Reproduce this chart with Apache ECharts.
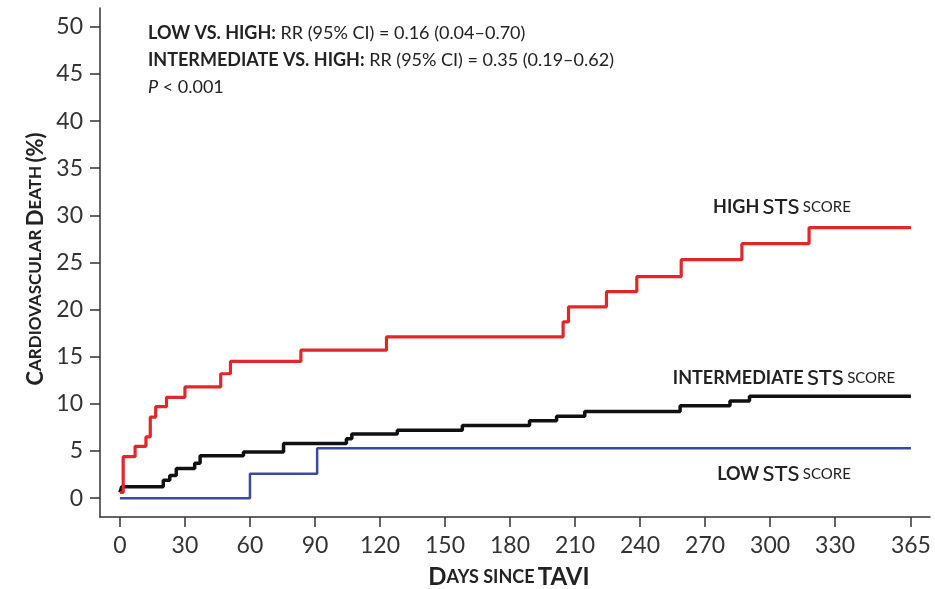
<!DOCTYPE html>
<html>
<head>
<meta charset="utf-8">
<script src="https://cdn.jsdelivr.net/npm/echarts@6/dist/echarts.min.js"></script>
<style>
html,body{margin:0;padding:0;background:#fff;}
#c{width:935px;height:589px;}
</style>
</head>
<body>
<div id="c"></div>
<script>
// Kaplan-Meier style cumulative incidence (%), [day, value]
const highSTS = [[0,0.6],[1.5,4.4],[7,5.5],[12,6.5],[14,8.6],[16.5,9.7],[21.5,10.7],[30,11.8],[46.5,13.2],[51,14.5],[83.5,15.7],[123,17.1],[204.5,18.7],[207,20.3],[224.5,21.9],[238.5,23.5],[259,25.3],[287,27.0],[318,28.7],[365,28.7]];
const intermediateSTS = [[0,0.6],[0.8,1.2],[20,1.9],[23,2.4],[26,3.15],[34.5,3.7],[37,4.5],[57,4.9],[75.5,5.8],[104.5,6.3],[107,6.8],[128,7.2],[158,7.7],[189,8.2],[201.5,8.7],[214.5,9.2],[258.5,9.8],[281.5,10.3],[290.5,10.8],[365,10.8]];
const lowSTS = [[0,0],[60,2.6],[91,5.3],[365,5.3]];
const xTicks = [0,30,60,90,120,150,180,210,240,270,300,330,365];
const yTicks = [0,5,10,15,20,25,30,35,40,45,50];

const FONT = 'Lato, "Open Sans", sans-serif';
const chart = echarts.init(document.getElementById('c'), null, {renderer:'canvas'});
const axisColor = '#333';
const curveRich = {
  b:{fontWeight:'bold',fontSize:18,fontFamily:FONT,fill:'#222'},
  m:{fontSize:22,fontFamily:FONT,fontWeight:500,fill:'#222'},
  s:{fontSize:15,fontFamily:FONT,fill:'#222'}
};
chart.setOption({
  backgroundColor:'#fff',
  animation:false,
  grid:{left:100,right:5,top:8,bottom:72},
  xAxis:{
    type:'value', min:-9.2, max:373.8,
    axisLine:{show:true,onZero:false,lineStyle:{color:axisColor,width:1.5}},
    axisTick:{show:true,customValues:xTicks,length:10,lineStyle:{color:axisColor,width:1.5}},
    axisLabel:{customValues:xTicks,color:'#333',fontSize:23,fontFamily:FONT,margin:17},
    splitLine:{show:false}
  },
  yAxis:{
    type:'value', min:-2, max:52,
    axisLine:{show:true,onZero:false,lineStyle:{color:axisColor,width:1.5}},
    axisTick:{show:true,customValues:yTicks,length:10,lineStyle:{color:axisColor,width:1.5}},
    axisLabel:{customValues:yTicks,color:'#333',fontSize:23,fontFamily:FONT,margin:17},
    splitLine:{show:false}
  },
  series:[
    {type:'line',step:'end',data:lowSTS,showSymbol:false,lineStyle:{color:'#3a4aa0',width:2.5},z:2},
    {type:'line',step:'end',data:intermediateSTS,showSymbol:false,lineStyle:{color:'#111',width:3.5},z:3},
    {type:'line',step:'end',data:highSTS,showSymbol:false,lineStyle:{color:'#e3262b',width:3.2},z:4}
  ],
  graphic:[
    {type:'text',left:148,top:24,style:{
      text:'{b|LOW VS. HIGH:} RR (95% CI) = 0.16 (0.04–0.70)',
      font:'18px '+FONT, fill:'#222',
      rich:{b:{fontWeight:'bold',fontSize:18,fontFamily:FONT,fill:'#222'}}
    }},
    {type:'text',left:148,top:51,style:{
      text:'{b|INTERMEDIATE VS. HIGH:} RR (95% CI) = 0.35 (0.19–0.62)',
      font:'18px '+FONT, fill:'#222',
      rich:{b:{fontWeight:'bold',fontSize:18,fontFamily:FONT,fill:'#222'}}
    }},
    {type:'text',left:148,top:78,style:{
      text:'{i|P} < 0.001',
      font:'18px '+FONT, fill:'#222',
      rich:{i:{fontStyle:'italic',fontSize:18,fontFamily:FONT,fill:'#222'}}
    }},
    {type:'text',x:782,y:207,style:{
      text:'{b|HIGH} {m|STS} {s|SCORE}',
      align:'center',verticalAlign:'middle',rich:curveRich
    }},
    {type:'text',x:784,y:378,style:{
      text:'{b|INTERMEDIATE} {m|STS} {s|SCORE}',
      align:'center',verticalAlign:'middle',rich:curveRich
    }},
    {type:'text',x:784,y:474,style:{
      text:'{b|LOW} {m|STS} {s|SCORE}',
      align:'center',verticalAlign:'middle',rich:curveRich
    }},
    {type:'text',x:36,y:259,rotation:Math.PI/2,style:{
      text:'{L|C}{s|ARDIOVASCULAR} {L|D}{s|EATH} {L|(%)}',
      align:'center',verticalAlign:'middle',
      rich:{L:{fontWeight:'bold',fontSize:22,fontFamily:FONT,fill:'#222'},s:{fontWeight:'bold',fontSize:17,fontFamily:FONT,fill:'#222'}}
    }},
    {type:'text',x:509,y:577,style:{
      text:'{L|D}{s|AYS SINCE} {L|TAVI}',
      align:'center',verticalAlign:'middle',
      rich:{L:{fontWeight:'bold',fontSize:24,fontFamily:FONT,fill:'#222'},s:{fontWeight:'bold',fontSize:18,fontFamily:FONT,fill:'#222'}}
    }}
  ]
});
</script>
</body>
</html>
